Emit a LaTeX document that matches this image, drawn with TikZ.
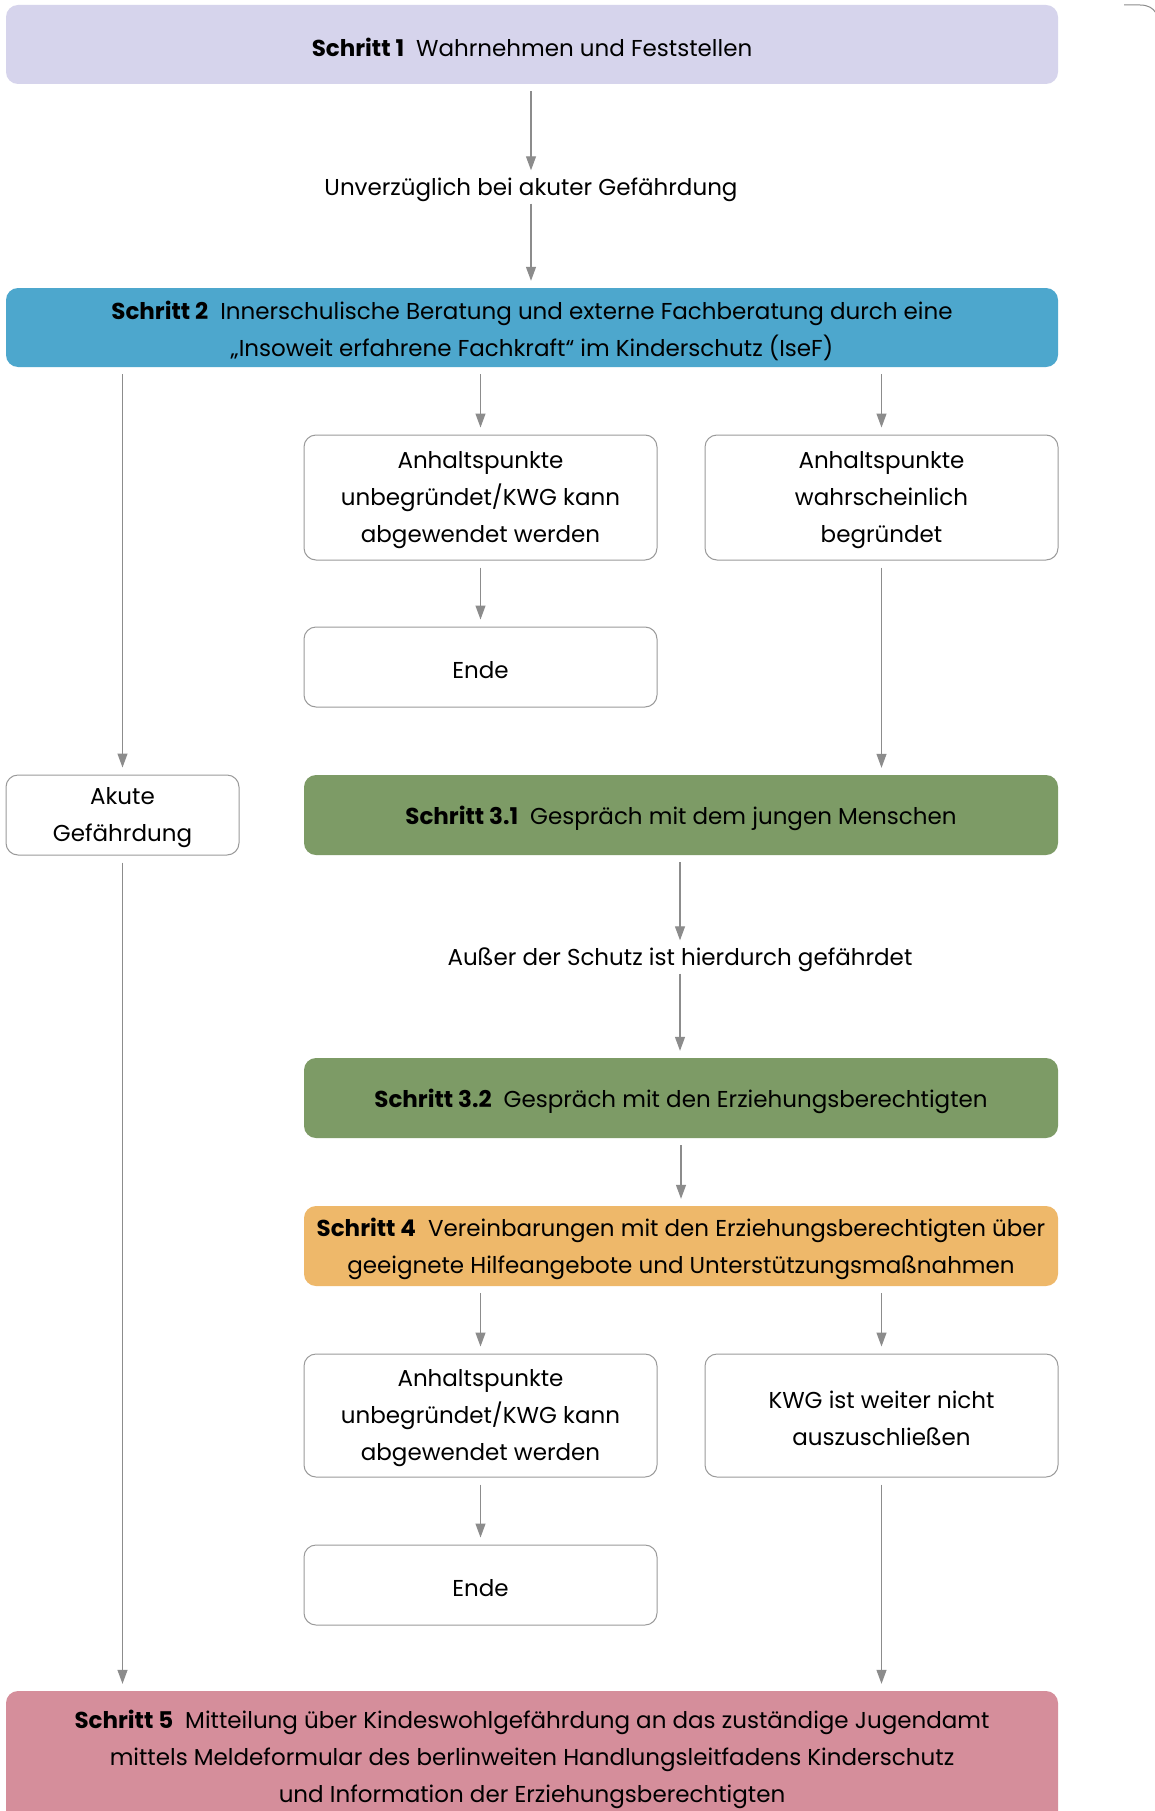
\documentclass[tikz,border=0pt]{standalone}
\usepackage{fontspec}
\setmainfont{Poppins}
\usetikzlibrary{arrows.meta}
\definecolor{lav}{HTML}{D6D4EC}
\definecolor{blu}{HTML}{4DA7CD}
\definecolor{grn}{HTML}{7D9B66}
\definecolor{org}{HTML}{EEB86A}
\definecolor{pnk}{HTML}{D58E9B}
\definecolor{linegray}{HTML}{8C8C8C}
\definecolor{boxgray}{HTML}{9A9A9A}
\tikzset{
  every node/.style={font=\fontsize{23}{37}\selectfont, align=center, inner sep=0pt},
  t/.style={label={[yshift=-3pt]center:{#1}}},
  stepbox/.style={rounded corners=12pt, minimum width=1052pt, minimum height=79pt},
  wide/.style={rounded corners=12pt, minimum width=754pt, minimum height=80pt},
  whitebox/.style={draw=boxgray, line width=1pt, fill=white, rounded corners=12pt, minimum width=353pt},
  lab/.style={minimum height=33pt, minimum width=400pt},
  conn/.style={draw=linegray, line width=1.2pt, shorten <=7pt, shorten >=7pt, -{Triangle[length=14pt,width=10pt]}},
}
\newcommand{\stp}[1]{\textbf{#1}\hspace{12pt}}
\begin{document}
\begin{tikzpicture}[x=1pt,y=-1pt]
\useasboundingbox (0,0) rectangle (1155,1811);
\fill[white] (0,0) rectangle (1155,1811);
\node[stepbox, fill=lav, t={\stp{Schritt 1}Wahrnehmen und Feststellen}] (s1) at (532,44.5) {};
\node[lab, t={Unverzüglich bei akuter Gefährdung}] (l1) at (531,187) {};
\node[stepbox, fill=blu, t={\stp{Schritt 2}Innerschulische Beratung und externe Fachberatung durch eine\\„Insoweit erfahrene Fachkraft“ im Kinderschutz (IseF)}] (s2) at (532,327.5) {};
\node[whitebox, minimum height=125pt, t={Anhaltspunkte\\unbegründet/KWG kann\\abgewendet werden}] (a1) at (480.5,497.5) {};
\node[whitebox, minimum height=125pt, t={Anhaltspunkte\\wahrscheinlich\\begründet}] (b1) at (881.5,497.5) {};
\node[whitebox, minimum height=80pt, t={Ende}] (e1) at (480.5,667) {};
\node[whitebox, minimum width=233pt, minimum height=80pt, t={Akute\\Gefährdung}] (ak) at (122.5,815) {};
\node[wide, fill=grn, t={\stp{Schritt 3.1}Gespräch mit dem jungen Menschen}] (s31) at (681,815) {};
\node[lab, t={Außer der Schutz ist hierdurch gefährdet}] (l2) at (680,957) {};
\node[wide, fill=grn, t={\stp{Schritt 3.2}Gespräch mit den Erziehungsberechtigten}] (s32) at (681,1098) {};
\node[wide, fill=org, t={\stp{Schritt 4}Vereinbarungen mit den Erziehungsberechtigten über\\geeignete Hilfeangebote und Unterstützungsmaßnahmen}] (s4) at (681,1246) {};
\node[whitebox, minimum height=123pt, t={Anhaltspunkte\\unbegründet/KWG kann\\abgewendet werden}] (c1) at (480.5,1415.5) {};
\node[whitebox, minimum height=123pt, t={KWG ist weiter nicht\\auszuschließen}] (d1) at (881.5,1415.5) {};
\node[whitebox, minimum height=80pt, t={Ende}] (e2) at (480.5,1585) {};
\node[stepbox, fill=pnk, minimum height=140pt, label={[yshift=2pt]center:{\stp{Schritt 5}Mitteilung über Kindeswohlgefährdung an das zuständige Jugendamt\\mittels Meldeformular des berlinweiten Handlungsleitfadens Kinderschutz\\und Information der Erziehungsberechtigten}}] (s5) at (532,1761) {};
% connectors
\draw[conn, shorten >=0pt] (s1.south -| l1.north) -- (l1.north);
\draw[conn, shorten <=0pt] (l1.south) -- (s2.north -| l1.south);
\draw[conn] (s2.south -| ak.north) -- (ak.north);
\draw[conn] (s2.south -| a1.north) -- (a1.north);
\draw[conn] (s2.south -| b1.north) -- (b1.north);
\draw[conn] (a1.south) -- (e1.north);
\draw[conn] (b1.south) -- (s31.north -| b1.south);
\draw[conn, shorten >=0pt] (s31.south -| l2.north) -- (l2.north);
\draw[conn, shorten <=0pt] (l2.south) -- (s32.north -| l2.south);
\draw[conn] (s32.south) -- (s4.north);
\draw[conn] (s4.south -| c1.north) -- (c1.north);
\draw[conn] (s4.south -| d1.north) -- (d1.north);
\draw[conn] (c1.south) -- (e2.north);
\draw[conn] (ak.south) -- (s5.north -| ak.south);
\draw[conn] (d1.south) -- (s5.north -| d1.south);
% fragment at top right
\draw[linegray, line width=1pt] (1124,5) -- (1140,5) .. controls (1148,5) and (1153,8) .. (1156,13);
\end{tikzpicture}
\end{document}
